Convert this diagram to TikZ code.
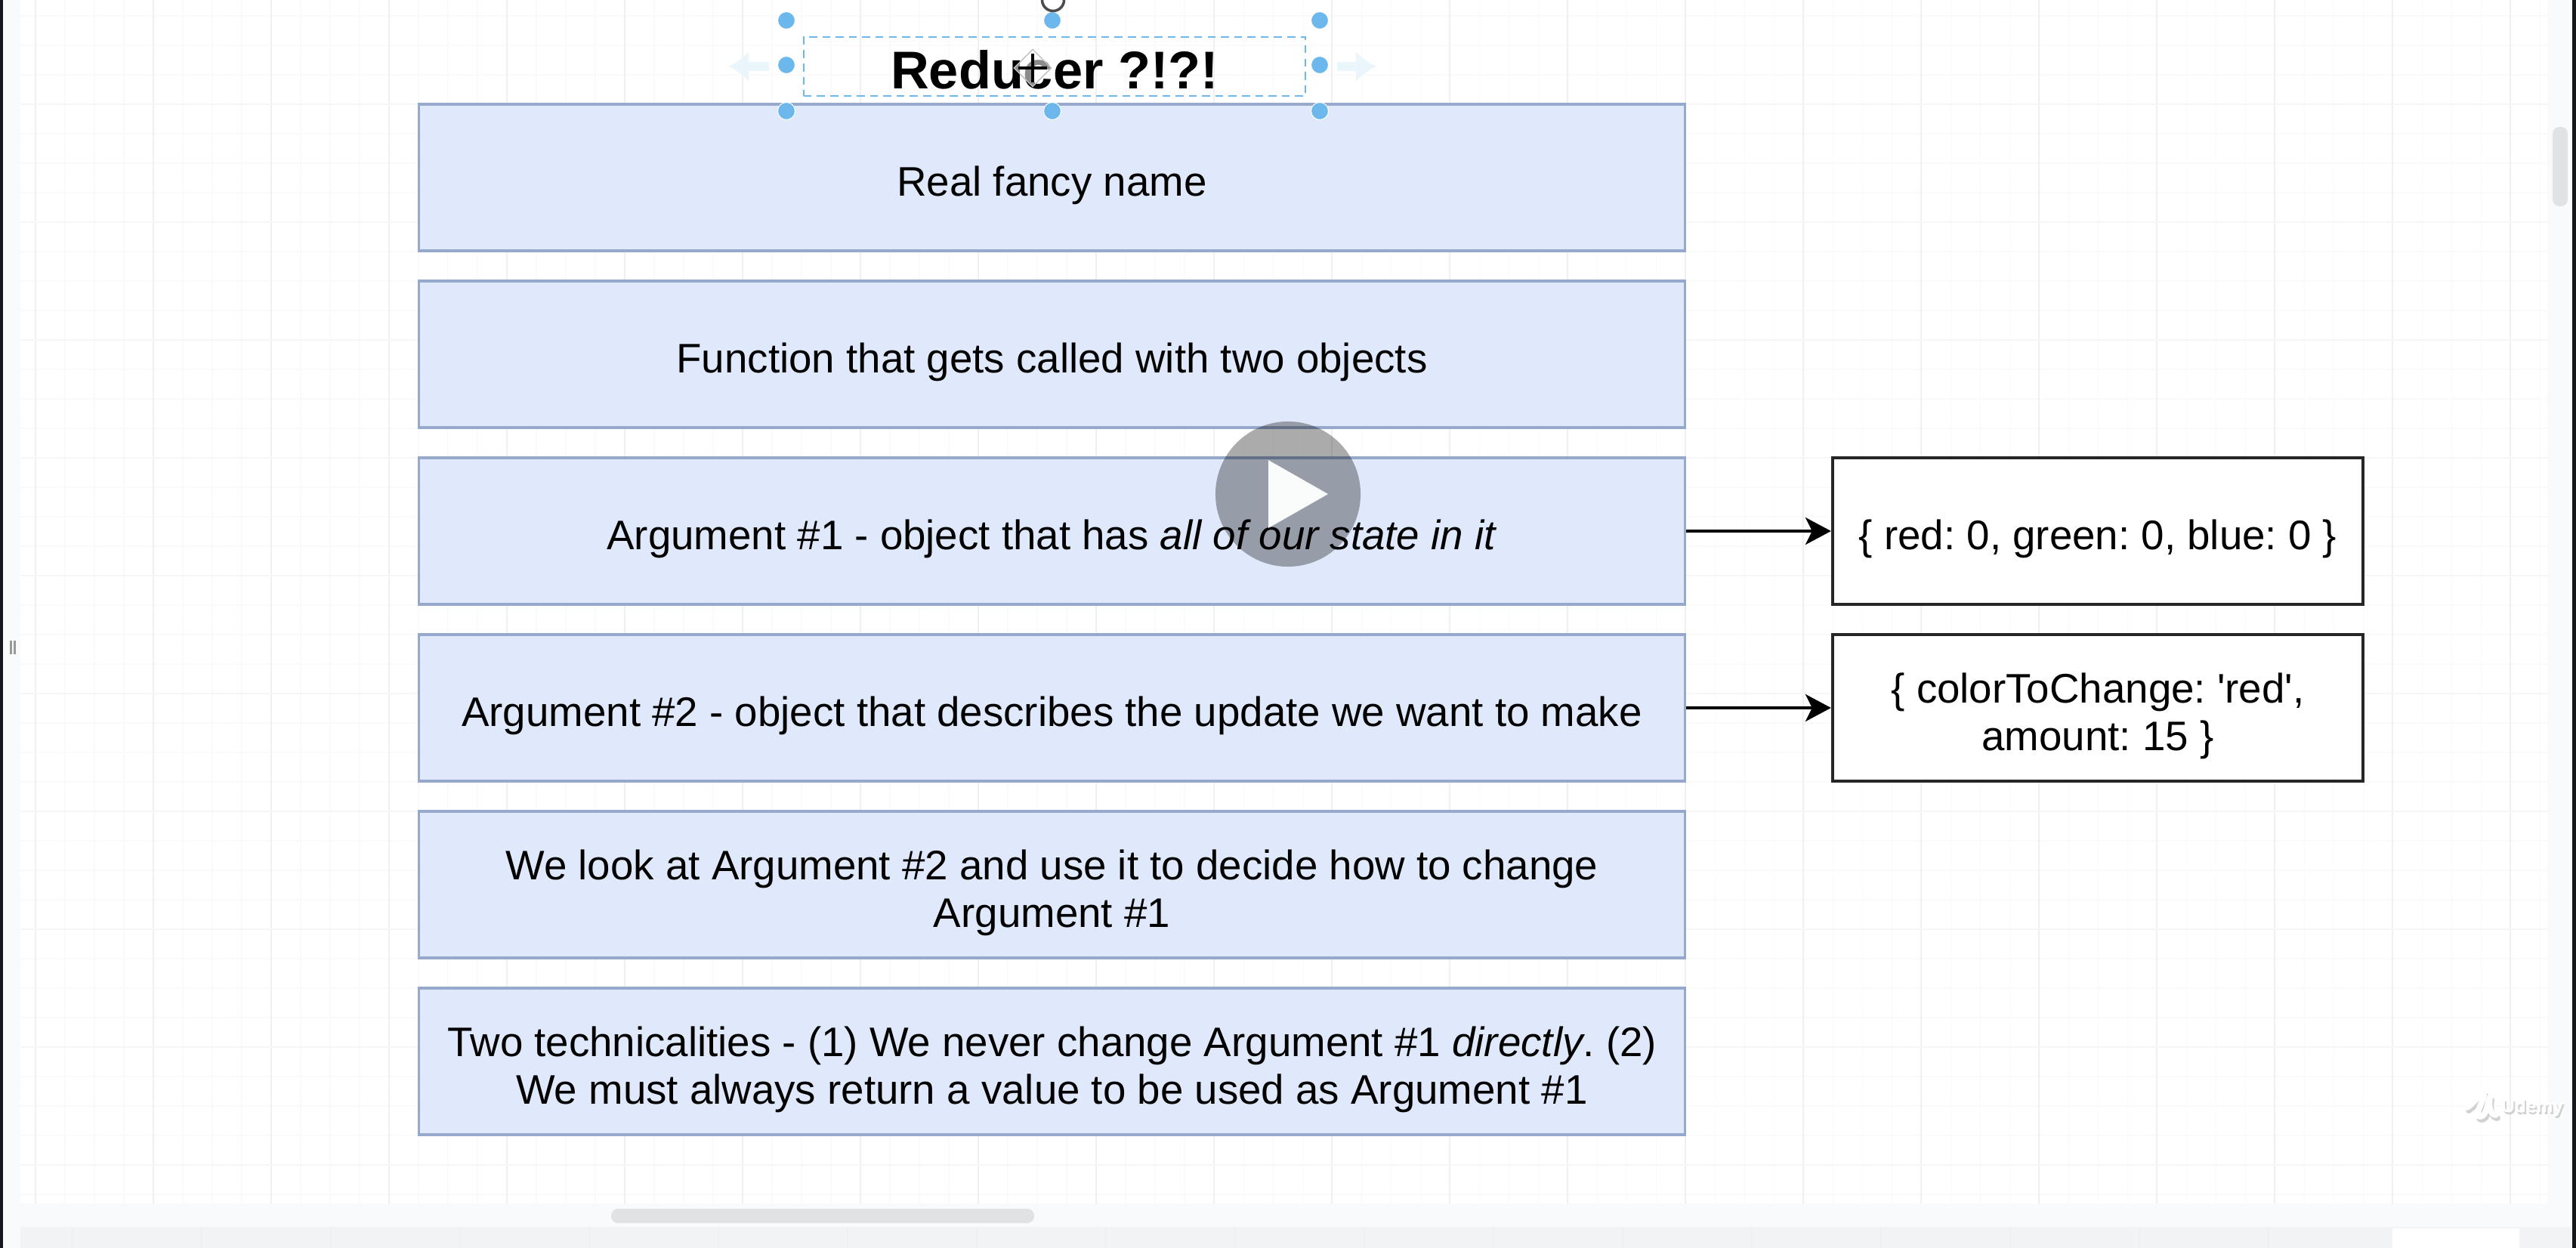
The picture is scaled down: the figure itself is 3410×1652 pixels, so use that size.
\documentclass[tikz,border=0pt]{standalone}
\usepackage{fontspec}
\setmainfont{Liberation Sans}[Ligatures=TeXOff]
\usetikzlibrary{arrows.meta, shapes.geometric}
\definecolor{boxfill}{HTML}{E0E9FB}
\definecolor{boxline}{HTML}{96A8CB}
\definecolor{handleblue}{HTML}{6CB8EC}
\definecolor{pageband}{HTML}{F9FAFC}
\definecolor{tabband}{HTML}{F2F3F5}
\definecolor{barthumb}{HTML}{E1E2E4}
\definecolor{edgedark}{HTML}{14171C}
\tikzset{
  bluebox/.style={draw=boxline, line width=1.1pt, fill=boxfill, minimum width=16.75cm, minimum height=1.94cm,
    align=center, inner sep=0pt, text height=.606cm, text depth=.116cm, font=\fontsize{15.55}{17.9}\selectfont\frenchspacing},
  whitebox/.style={draw=black!85, line width=1.1pt, fill=white, minimum width=7.02cm, minimum height=1.94cm,
    align=center, inner sep=0pt, text height=.606cm, text depth=.116cm, font=\fontsize{15.55}{17.9}\selectfont\frenchspacing},
  twolines/.style={text height=1.236cm},
  handledot/.style={circle, fill=handleblue, draw=white, line width=.3pt, inner sep=0pt, minimum width=.23cm},
  arw/.style={-{Stealth[length=.34cm, width=.36cm, inset=.09cm]}, line width=1pt, black},
  hintarrow/.style={-{Latex[length=.27cm, width=.4cm]}, line width=3.4pt, color=handleblue!14},
}

\begin{document}
\begin{tikzpicture}[x=.01cm, y=-.01cm]
\clip (0,0) rectangle (3410,1652);
\fill[white] (0,0) rectangle (3410,1652);

% canvas grid
\foreach \x in {47,86,...,3372} {\draw[black!2, line width=.3pt] (\x,0) -- (\x,1593);}
\foreach \y in {21,60,...,1593} {\draw[black!2, line width=.3pt] (27,\y) -- (3372,\y);}
\foreach \x in {47,203,...,3372} {\draw[black!6, line width=.4pt] (\x,0) -- (\x,1593);}
\foreach \y in {138,294,...,1593} {\draw[black!4, line width=.5pt] (27,\y) -- (3372,\y);}

% window edges and scroll bars
\fill[pageband] (4,0) rectangle (27,1652);
\fill[pageband] (3372,0) rectangle (3405,1652);
\fill[pageband] (4,1593) rectangle (3405,1624);
\fill[tabband] (27,1624) rectangle (3405,1652);
\foreach \x in {96,267,...,3167} {\draw[black!6, line width=.4pt] (\x,1624) -- (\x,1652);}
\fill[white] (3167,1626) rectangle (3335,1652);
\fill[barthumb, rounded corners=.09cm] (809,1600) rectangle (1369,1619);
\fill[barthumb, rounded corners=.09cm] (3379,168) rectangle (3399,273);
\fill[edgedark] (0,0) rectangle (4,1652);
\fill[edgedark] (3405,0) rectangle (3410,1652);
\fill[black!40] (13,848) rectangle (16,866);
\fill[black!40] (18,848) rectangle (21,866);

% left column
\node[bluebox] (fancy) at (1392.5,235) {Real fancy name};
\node[bluebox] (func) at (1392.5,469) {Function that gets called with two objects};
\node[bluebox] (argone) at (1392.5,703) {Argument \#1 - object that has \textit{all of our state in it}};
\node[bluebox] (argtwo) at (1392.5,937) {Argument \#2 - object that describes the update we want to make};
\node[bluebox, twolines] (decide) at (1392.5,1171) {We look at Argument \#2 and use it to decide how to change\\Argument \#1};
\node[bluebox, twolines] (tech) at (1392.5,1405) {Two technicalities - (1) We never change Argument \#1 \textit{directly}. (2)\\We must always return a value to be used as Argument \#1};

% right column
\node[whitebox] (state) at (2777,703) {\{ red: 0, green: 0, blue: 0 \}};
\node[whitebox, twolines] (update) at (2777,937) {\{ colorToChange: 'red',\\amount: 15 \}};

\draw[arw] (argone) -- (state);
\draw[arw] (argtwo) -- (update);

% selected title
\node[draw=handleblue, densely dashed, line width=.5pt, minimum width=6.64cm, minimum height=.78cm, inner sep=0pt,
  text height=.6cm, text depth=.01cm, font=\fontsize{20}{24}\selectfont\bfseries] (title) at (1396,88) {Reducer ?!?!};
\foreach \x/\y in {1041/27, 1393/27, 1747/27, 1041/86, 1747/86, 1041/147, 1393/147, 1747/147}
{
  \node[handledot] (h\x-\y) at (\x,\y) {};
}
\node[circle, draw=black!70, fill=white, line width=1pt, inner sep=0pt, minimum width=.29cm] (rotate) at (1394,0) {};
\coordinate (hintleft) at (1018,88);
\coordinate (hintleftend) at (964,88);
\coordinate (hintright) at (1770,88);
\coordinate (hintrightend) at (1822,88);
\draw[hintarrow] (hintleft) -- (hintleftend);
\draw[hintarrow] (hintright) -- (hintrightend);

% move cursor on the title
\node[diamond, fill=white, fill opacity=.55, draw=black!25, line width=.4pt, inner sep=0pt, minimum width=.5cm, minimum height=.5cm] (cursor) at (1367,90) {};
\draw[black, line width=1.4pt, shorten <=.07cm, shorten >=.07cm] (cursor.west) -- (cursor.east);
\draw[black, line width=1.4pt, shorten <=.07cm, shorten >=.07cm] (cursor.north) -- (cursor.south);

% video overlay
\node[circle, fill=black, fill opacity=.33, inner sep=0pt, minimum width=1.92cm] (play) at (1705,654) {};
\fill[white, opacity=.96] (1679,609) -- (1758,654) -- (1679,699) -- cycle;

% watermark
\begin{scope}[line width=2.2pt, line cap=round, line join=round]
\draw[black!18, shift={(2,4)}] (3266,1466) .. controls (3278,1458) and (3284,1444) .. (3288,1446) .. controls (3290,1454) and (3272,1480) .. (3284,1478) .. controls (3292,1476) and (3292,1462) .. (3296,1452) .. controls (3294,1464) and (3296,1476) .. (3304,1476);
\draw[white] (3266,1466) .. controls (3278,1458) and (3284,1444) .. (3288,1446) .. controls (3290,1454) and (3272,1480) .. (3284,1478) .. controls (3292,1476) and (3292,1462) .. (3296,1452) .. controls (3294,1464) and (3296,1476) .. (3304,1476);
\end{scope}
\node[text=black!18, font=\fontsize{7}{8}\selectfont\bfseries, inner sep=0pt] (udemyshade) at (3354,1469) {Udemy};
\node[text=white, font=\fontsize{7}{8}\selectfont\bfseries, inner sep=0pt] (udemy) at (3352,1466) {Udemy};
\end{tikzpicture}
\end{document}
